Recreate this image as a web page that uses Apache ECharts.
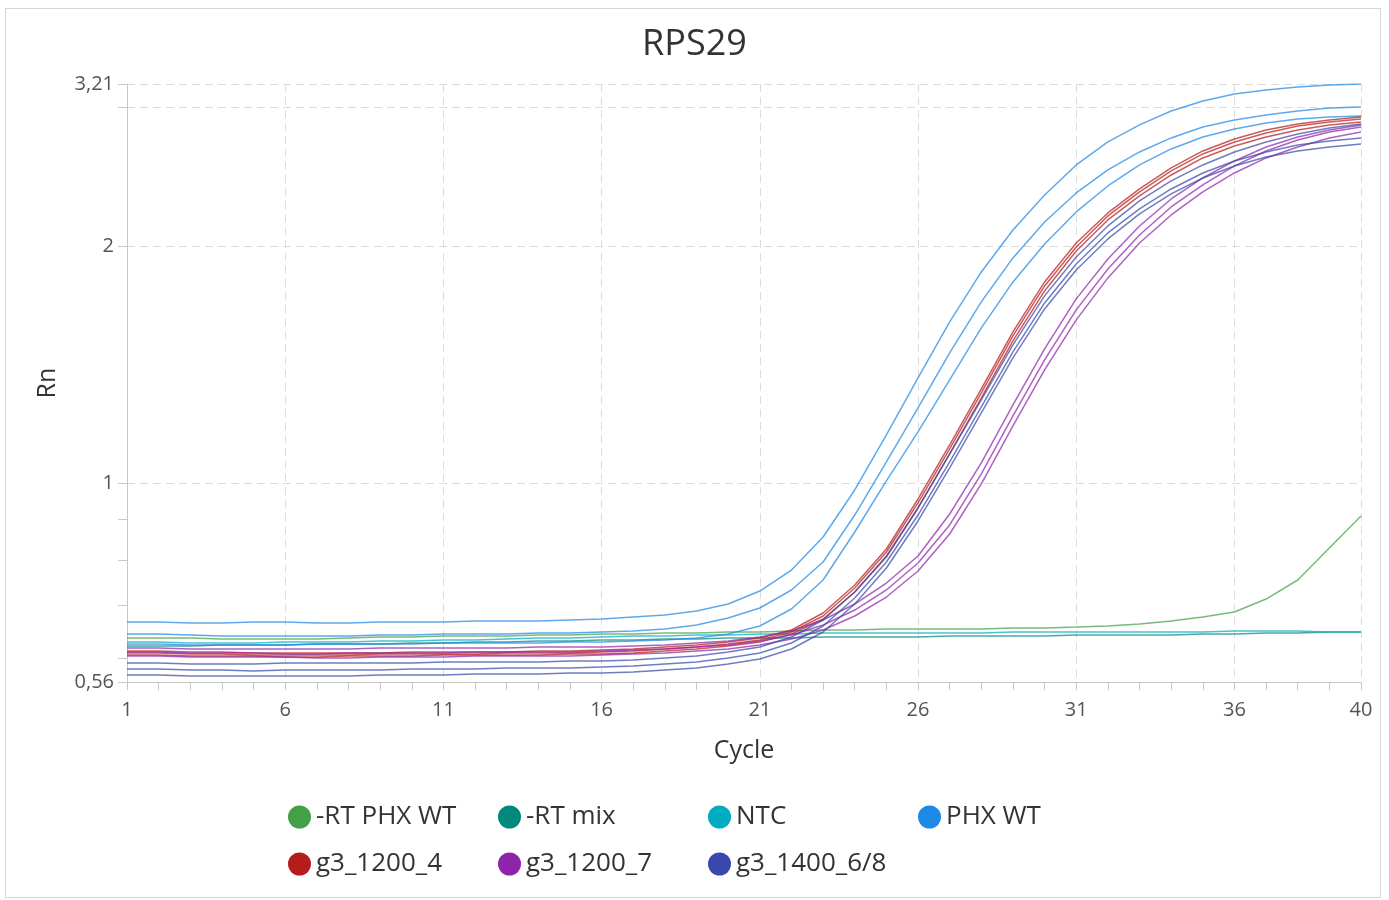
<!DOCTYPE html>
<html><head><meta charset="utf-8">
<script src="https://cdn.jsdelivr.net/npm/echarts@6/dist/echarts.min.js"></script>
<style>
html,body{margin:0;padding:0;background:#fff}
#chart{width:1389px;height:900px}
#frame{position:absolute;left:5px;top:8px;width:1374px;height:888px;border:1px solid #d6d6d6;pointer-events:none}
</style>
</head><body><div id="chart"></div><div id="frame"></div>
<script>
// ---- data (Rn values per cycle) ----
const cycles = [1,2,3,4,5,6,7,8,9,10,11,12,13,14,15,16,17,18,19,20,21,22,23,24,25,26,27,28,29,30,31,32,33,34,35,36,37,38,39,40];

const rtPhxWt1 = [0.6368,0.6368,0.6368,0.6349,0.6349,0.6349,0.6349,0.6368,0.6386,0.6386,0.6405,0.6405,0.6405,0.6424,0.6424,0.6442,0.6442,0.6461,0.6461,0.6480,0.6480,0.6499,0.6518,0.6518,0.6537,0.6537,0.6537,0.6537,0.6556,0.6556,0.6575,0.6595,0.6633,0.6692,0.6770,0.6870,0.7135,0.7543,0.8282,0.9093];

const rtMix1 = [0.6221,0.6221,0.6221,0.6239,0.6239,0.6239,0.6257,0.6257,0.6257,0.6275,0.6275,0.6294,0.6294,0.6312,0.6312,0.6331,0.6331,0.6349,0.6349,0.6368,0.6368,0.6368,0.6386,0.6386,0.6386,0.6386,0.6405,0.6405,0.6405,0.6405,0.6424,0.6424,0.6424,0.6424,0.6442,0.6442,0.6461,0.6461,0.6480,0.6480];

const ntc1 = [0.6294,0.6294,0.6275,0.6275,0.6275,0.6294,0.6294,0.6294,0.6312,0.6312,0.6331,0.6331,0.6349,0.6368,0.6368,0.6386,0.6405,0.6405,0.6424,0.6424,0.6442,0.6442,0.6461,0.6461,0.6461,0.6461,0.6461,0.6461,0.6480,0.6480,0.6480,0.6480,0.6480,0.6480,0.6480,0.6499,0.6499,0.6499,0.6480,0.6480];

const phxWt1 = [0.6672,0.6672,0.6653,0.6653,0.6672,0.6672,0.6653,0.6653,0.6672,0.6672,0.6672,0.6692,0.6692,0.6692,0.6711,0.6731,0.6770,0.6810,0.6890,0.7032,0.7304,0.7766,0.8552,0.9810,1.1521,1.3608,1.6024,1.8543,2.0963,2.3219,2.5344,2.7103,2.8484,2.9670,3.0549,3.1180,3.1546,3.1824,3.2012,3.2100];
const phxWt2 = [0.6442,0.6442,0.6424,0.6405,0.6405,0.6405,0.6405,0.6405,0.6424,0.6424,0.6442,0.6442,0.6442,0.6461,0.6461,0.6480,0.6499,0.6537,0.6614,0.6751,0.6951,0.7326,0.7950,0.9119,1.0647,1.2466,1.4637,1.6988,1.9317,2.1457,2.3353,2.4976,2.6323,2.7423,2.8316,2.8902,2.9326,2.9670,2.9933,3.0021];
const phxWt3 = [0.6257,0.6257,0.6239,0.6239,0.6239,0.6239,0.6257,0.6257,0.6257,0.6257,0.6275,0.6275,0.6275,0.6275,0.6294,0.6294,0.6312,0.6331,0.6368,0.6442,0.6595,0.6931,0.7543,0.8678,1.0072,1.1622,1.3528,1.5746,1.8009,2.0123,2.2093,2.3835,2.5343,2.6555,2.7502,2.8152,2.8649,2.8986,2.9156,2.9241];

const g1200_4a = [0.6130,0.6130,0.6113,0.6113,0.6095,0.6095,0.6095,0.6095,0.6095,0.6113,0.6113,0.6113,0.6113,0.6130,0.6130,0.6148,0.6166,0.6203,0.6239,0.6294,0.6368,0.6518,0.6850,0.7434,0.8258,0.9556,1.1189,1.3177,1.5563,1.8009,2.0181,2.2028,2.3627,2.5123,2.6400,2.7342,2.8070,2.8567,2.8902,2.9156];
const g1200_4b = [0.6095,0.6095,0.6077,0.6077,0.6059,0.6059,0.6059,0.6059,0.6077,0.6077,0.6077,0.6077,0.6095,0.6095,0.6095,0.6113,0.6130,0.6166,0.6203,0.6257,0.6331,0.6480,0.6790,0.7369,0.8186,0.9446,1.1058,1.3024,1.5384,1.7800,1.9946,2.1835,2.3421,2.4903,2.6170,2.7103,2.7825,2.8400,2.8733,2.8986];
const g1200_4c = [0.6059,0.6059,0.6042,0.6042,0.6042,0.6024,0.6024,0.6042,0.6042,0.6042,0.6059,0.6059,0.6059,0.6059,0.6077,0.6077,0.6095,0.6130,0.6166,0.6221,0.6294,0.6442,0.6731,0.7283,0.8067,0.9308,1.0898,1.2836,1.5160,1.7542,1.9715,2.1583,2.3153,2.4611,2.5868,2.6790,2.7501,2.8070,2.8484,2.8733];

const g1200_7a = [0.6184,0.6184,0.6166,0.6166,0.6166,0.6166,0.6166,0.6166,0.6184,0.6184,0.6184,0.6184,0.6184,0.6203,0.6203,0.6203,0.6221,0.6239,0.6275,0.6312,0.6386,0.6499,0.6711,0.7032,0.7477,0.8091,0.9146,1.0616,1.2575,1.4809,1.7140,1.9260,2.1208,2.2947,2.4397,2.5641,2.6710,2.7501,2.8070,2.8484];
const g1200_7b = [0.6113,0.6113,0.6095,0.6095,0.6095,0.6077,0.6077,0.6095,0.6095,0.6095,0.6095,0.6113,0.6113,0.6113,0.6113,0.6130,0.6148,0.6166,0.6203,0.6239,0.6312,0.6424,0.6614,0.6910,0.7326,0.7927,0.8858,1.0280,1.2178,1.4341,1.6597,1.8706,2.0655,2.2418,2.3904,2.5270,2.6400,2.7262,2.7906,2.8316];
const g1200_7c = [0.6042,0.6042,0.6024,0.6024,0.6024,0.6024,0.6007,0.6007,0.6024,0.6024,0.6024,0.6042,0.6042,0.6042,0.6042,0.6059,0.6077,0.6095,0.6130,0.6166,0.6239,0.6349,0.6518,0.6790,0.7177,0.7744,0.8627,0.9985,1.1828,1.3929,1.6120,1.8223,2.0181,2.1900,2.3421,2.4757,2.5868,2.6710,2.7423,2.7906];

const g1400a = [0.5919,0.5919,0.5902,0.5902,0.5902,0.5919,0.5919,0.5919,0.5919,0.5919,0.5937,0.5937,0.5937,0.5937,0.5954,0.5954,0.5972,0.6007,0.6042,0.6113,0.6203,0.6386,0.6711,0.7283,0.8091,0.9308,1.0898,1.2761,1.4983,1.7290,1.9373,2.1208,2.2815,2.4186,2.5344,2.6323,2.7103,2.7743,2.8233,2.8567];
const g1400b = [0.5817,0.5817,0.5800,0.5800,0.5783,0.5800,0.5800,0.5800,0.5800,0.5817,0.5817,0.5817,0.5834,0.5834,0.5834,0.5851,0.5868,0.5902,0.5937,0.6007,0.6095,0.6275,0.6595,0.7156,0.7950,0.9119,1.0647,1.2502,1.4680,1.6938,1.8980,2.0779,2.2287,2.3627,2.4757,2.5641,2.6323,2.6867,2.7182,2.7423];
const g1400c = [0.5716,0.5716,0.5699,0.5699,0.5699,0.5699,0.5699,0.5699,0.5716,0.5716,0.5716,0.5732,0.5732,0.5732,0.5749,0.5749,0.5766,0.5800,0.5834,0.5902,0.5989,0.6166,0.6480,0.7032,0.7811,0.8962,1.0463,1.2285,1.4425,1.6644,1.8652,2.0419,2.1965,2.3285,2.4397,2.5270,2.5944,2.6400,2.6710,2.6945];

// ---- axis tick definitions ----
const yTickValues = [0.56, 0.6, 0.7, 0.8, 0.9, 1, 2, 3, 3.21];
const yLabelValues = [0.56, 1, 2, 3.21];
const yGridValues = [1, 2, 3, 3.21];
const xLabelValues = [1, 6, 11, 16, 21, 26, 31, 36, 40];
const xGridValues = [6, 11, 16, 21, 26, 31, 36, 40];
const legendRow1 = ['-RT PHX WT', '-RT mix', 'NTC', 'PHX WT'];
const legendRow2 = ['g3_1200_4', 'g3_1200_7', 'g3_1400_6/8'];

const groups = [
  { name: '-RT PHX WT', color: '#43A047', reps: [rtPhxWt1] },
  { name: '-RT mix', color: '#00897B', reps: [rtMix1] },
  { name: 'NTC', color: '#00ACC1', reps: [ntc1] },
  { name: 'PHX WT', color: '#1E88E5', reps: [phxWt1, phxWt2, phxWt3] },
  { name: 'g3_1200_4', color: '#B71C1C', reps: [g1200_4a, g1200_4b, g1200_4c] },
  { name: 'g3_1200_7', color: '#8E24AA', reps: [g1200_7a, g1200_7b, g1200_7c] },
  { name: 'g3_1400_6/8', color: '#3949AB', reps: [g1400a, g1400b, g1400c] }
];

const FONT = '"Open Sans", "Noto Sans", sans-serif';
const LG = v => Math.log10(v);
const fmt = v => String(Math.round(Math.pow(10, v) * 100) / 100).replace('.', ',');
const YMIN = LG(0.56), YMAX = LG(3.21);

const series = [];
groups.forEach(g => {
  g.reps.forEach(rep => {
    series.push({
      type: 'line', name: g.name,
      xAxisIndex: 0, yAxisIndex: 0,
      data: cycles.map((c, i) => [c, LG(rep[i])]),
      showSymbol: false, symbol: 'circle',
      itemStyle: { color: g.color },
      lineStyle: { color: g.color, width: 1.5, opacity: 0.72 },
      emphasis: { disabled: true },
      silent: true
    });
  });
});

const legendBase = {
  icon: 'circle', itemWidth: 23, itemHeight: 23, itemGap: 0,
  left: 288, padding: 0, orient: 'horizontal',
  textStyle: { fontFamily: FONT, fontSize: 26, color: '#333', width: 182, lineHeight: 30 }
};

const chart = echarts.init(document.getElementById('chart'), null, { renderer: 'canvas' });
chart.setOption({
  animation: false,
  backgroundColor: '#fff',
  title: {
    text: 'RPS29', left: 'center', top: 23, padding: 0,
    textStyle: { fontFamily: FONT, fontSize: 36, fontWeight: 'normal', color: '#333', lineHeight: 44 }
  },
  legend: [
    Object.assign({}, legendBase, { top: 802, data: legendRow1 }),
    Object.assign({}, legendBase, { top: 849, data: legendRow2 })
  ],
  grid: { left: 127, right: 28, top: 84, bottom: 218, containLabel: false, outerBoundsMode: 'none' },
  xAxis: [{
    type: 'value', min: 1, max: 40, position: 'bottom',
    axisLine: { show: true, onZero: false, lineStyle: { color: '#c8c8c8', width: 1 } },
    axisTick: { show: true, length: 8, customValues: cycles, lineStyle: { color: '#c8c8c8' } },
    axisLabel: { customValues: xLabelValues, fontFamily: FONT, fontSize: 20, color: '#555', margin: 18 },
    splitLine: { show: false },
    name: 'Cycle', nameLocation: 'middle', nameGap: 56,
    nameTextStyle: { fontFamily: FONT, fontSize: 25, color: '#333' }
  }, {
    type: 'value', min: 1, max: 40, position: 'bottom',
    axisLine: { show: false, onZero: false },
    axisTick: { show: false, customValues: xGridValues },
    axisLabel: { show: false },
    splitLine: { show: true, lineStyle: { color: '#dcdcdc', width: 1, type: [8, 5] } }
  }],
  yAxis: [{
    type: 'value', min: YMIN, max: YMAX, position: 'left',
    axisLine: { show: true, onZero: false, lineStyle: { color: '#c8c8c8', width: 1 } },
    axisTick: { show: true, length: 9, customValues: yTickValues.map(LG), lineStyle: { color: '#c8c8c8' } },
    axisLabel: { customValues: yLabelValues.map(LG), formatter: fmt, fontFamily: FONT, fontSize: 20, color: '#555', margin: 13 },
    splitLine: { show: false },
    name: 'Rn', nameLocation: 'middle', nameGap: 67,
    nameTextStyle: { fontFamily: FONT, fontSize: 25, color: '#333' }
  }, {
    type: 'value', min: YMIN, max: YMAX, position: 'left',
    axisLine: { show: false, onZero: false },
    axisTick: { show: false, customValues: yGridValues.map(LG) },
    axisLabel: { show: false },
    splitLine: { show: true, lineStyle: { color: '#dcdcdc', width: 1, type: [8, 5] } }
  }],
  series: series
});
</script>
</body></html>
